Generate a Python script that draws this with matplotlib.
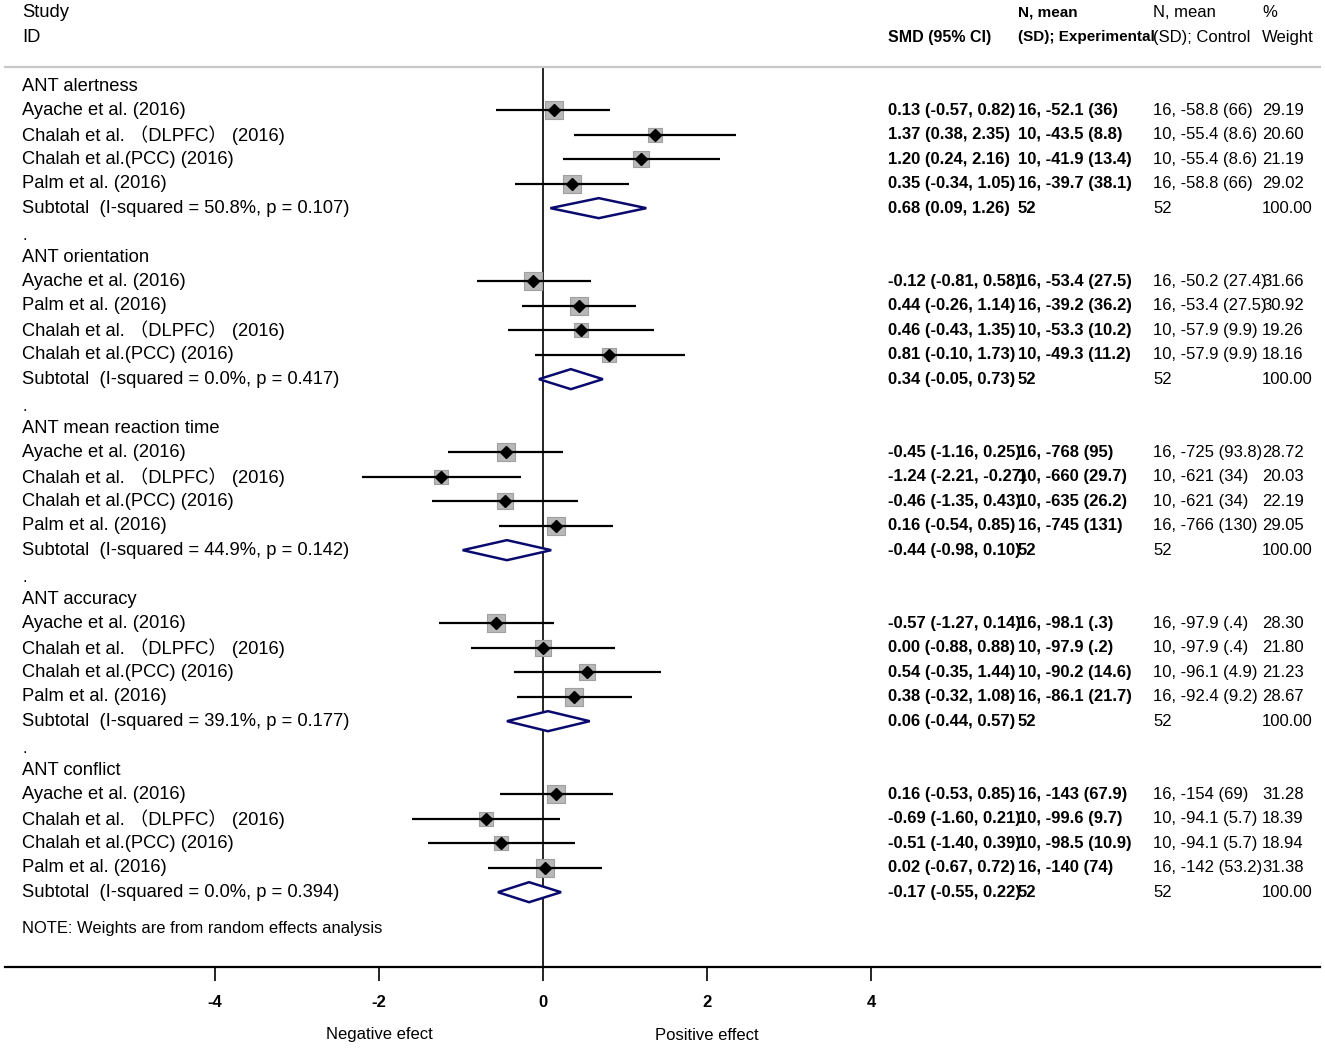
import numpy as np
import matplotlib
matplotlib.use("Agg")
import matplotlib.pyplot as plt
from matplotlib.patches import Polygon
from matplotlib.transforms import blended_transform_factory

plt.rcParams['font.family'] = ['Liberation Sans', 'Noto Sans CJK SC']

# ---- data ----
groups = ["ANT alertness", "ANT orientation", "ANT mean reaction time",
          "ANT accuracy", "ANT conflict"]

ayache = "Ayache et al. (2016)"
dlpfc = "Chalah et al. \uff08DLPFC\uff09 (2016)"
pcc = "Chalah et al.(PCC) (2016)"
palm = "Palm et al. (2016)"

studies = [
    [ayache, dlpfc, pcc, palm],
    [ayache, palm, dlpfc, pcc],
    [ayache, dlpfc, pcc, palm],
    [ayache, dlpfc, pcc, palm],
    [ayache, dlpfc, pcc, palm],
]

smd = [
    [0.13, 1.37, 1.20, 0.35],
    [-0.12, 0.44, 0.46, 0.81],
    [-0.45, -1.24, -0.46, 0.16],
    [-0.57, 0.00, 0.54, 0.38],
    [0.16, -0.69, -0.51, 0.02],
]
ci_lo = [
    [-0.57, 0.38, 0.24, -0.34],
    [-0.81, -0.26, -0.43, -0.10],
    [-1.16, -2.21, -1.35, -0.54],
    [-1.27, -0.88, -0.35, -0.32],
    [-0.53, -1.60, -1.40, -0.67],
]
ci_hi = [
    [0.82, 2.35, 2.16, 1.05],
    [0.58, 1.14, 1.35, 1.73],
    [0.25, -0.27, 0.43, 0.85],
    [0.14, 0.88, 1.44, 1.08],
    [0.85, 0.21, 0.39, 0.72],
]
weights = [
    [29.19, 20.60, 21.19, 29.02],
    [31.66, 30.92, 19.26, 18.16],
    [28.72, 20.03, 22.19, 29.05],
    [28.30, 21.80, 21.23, 28.67],
    [31.28, 18.39, 18.94, 31.38],
]
exp_txt = [
    ["16, -52.1 (36)", "10, -43.5 (8.8)", "10, -41.9 (13.4)", "16, -39.7 (38.1)"],
    ["16, -53.4 (27.5)", "16, -39.2 (36.2)", "10, -53.3 (10.2)", "10, -49.3 (11.2)"],
    ["16, -768 (95)", "10, -660 (29.7)", "10, -635 (26.2)", "16, -745 (131)"],
    ["16, -98.1 (.3)", "10, -97.9 (.2)", "10, -90.2 (14.6)", "16, -86.1 (21.7)"],
    ["16, -143 (67.9)", "10, -99.6 (9.7)", "10, -98.5 (10.9)", "16, -140 (74)"],
]
ctrl_txt = [
    ["16, -58.8 (66)", "10, -55.4 (8.6)", "10, -55.4 (8.6)", "16, -58.8 (66)"],
    ["16, -50.2 (27.4)", "16, -53.4 (27.5)", "10, -57.9 (9.9)", "10, -57.9 (9.9)"],
    ["16, -725 (93.8)", "10, -621 (34)", "10, -621 (34)", "16, -766 (130)"],
    ["16, -97.9 (.4)", "10, -97.9 (.4)", "10, -96.1 (4.9)", "16, -92.4 (9.2)"],
    ["16, -154 (69)", "10, -94.1 (5.7)", "10, -94.1 (5.7)", "16, -142 (53.2)"],
]
sub_smd = [0.68, 0.34, -0.44, 0.06, -0.17]
sub_lo = [0.09, -0.05, -0.98, -0.44, -0.55]
sub_hi = [1.26, 0.73, 0.10, 0.57, 0.22]
sub_i2 = [50.8, 0.0, 44.9, 39.1, 0.0]
sub_p = [0.107, 0.417, 0.142, 0.177, 0.394]
sub_n_exp = [52, 52, 52, 52, 52]
sub_n_ctrl = [52, 52, 52, 52, 52]

xticks = [-4, -2, 0, 2, 4]

# ---- layout ----
W, H = 1325, 1050
fig = plt.figure(figsize=(W / 100, H / 100), dpi=100)

px0 = 543.0      # pixel of x = 0
ppu = 82.0       # pixels per SMD unit
row0 = 86.0      # pixel of first row
rowh = 24.43     # row height in pixels
ax_top, ax_bot = 67.0, 967.0
ax_left, ax_right = 5.0, 1320.0

ax = fig.add_axes([ax_left / W, 1 - ax_bot / H,
                   (ax_right - ax_left) / W, (ax_bot - ax_top) / H])
ax.set_xlim((ax_left - px0) / ppu, (ax_right - px0) / ppu)
ax.set_ylim((ax_bot - row0) / rowh, (ax_top - row0) / rowh)

for s in ['left', 'right']:
    ax.spines[s].set_visible(False)
ax.spines['bottom'].set_linewidth(1.6)
ax.spines['top'].set_color('#c8c8c8')
ax.spines['top'].set_linewidth(1.6)
ax.set_yticks([])
ax.set_xticks(xticks)
ax.set_xticklabels([str(t) for t in xticks], fontsize=12, fontweight='bold')
ax.tick_params(axis='x', direction='out', length=10, width=1.2, pad=10)

ax.axvline(0, color='black', lw=1.2, zorder=2)

tr = blended_transform_factory(fig.transFigure, ax.transData)
col_lab = 22 / W
col_smd = 888 / W
col_exp = 1018 / W
col_ctrl = 1153 / W
col_w = 1262 / W

fs = 13.2
fs_r = 12
fs_h = 11

# header
ax.text(col_lab, -3.0, "Study", transform=tr, fontsize=fs, va='center', clip_on=False)
ax.text(col_lab, -2.0, "ID", transform=tr, fontsize=fs, va='center', clip_on=False)
ax.text(col_smd, -2.0, "SMD (95% CI)", transform=tr, fontsize=11.5, va='center',
        fontweight='bold', clip_on=False)
ax.text(col_exp, -3.0, "N, mean", transform=tr, fontsize=fs_h, va='center',
        fontweight='bold', clip_on=False)
ax.text(col_exp, -2.0, "(SD); Experimental", transform=tr, fontsize=fs_h, va='center',
        fontweight='bold', clip_on=False)
ax.text(col_ctrl, -3.0, "N, mean", transform=tr, fontsize=fs_r, va='center', clip_on=False)
ax.text(col_ctrl, -2.0, "(SD); Control", transform=tr, fontsize=fs_r, va='center', clip_on=False)
ax.text(col_w, -3.0, "%", transform=tr, fontsize=fs_r, va='center', clip_on=False)
ax.text(col_w, -2.0, "Weight", transform=tr, fontsize=fs_r, va='center', clip_on=False)

r = 0
for g in range(len(groups)):
    ax.text(col_lab, r, groups[g], transform=tr, fontsize=fs, va='center')
    r += 1
    for i in range(len(studies[g])):
        est, lo, hi, w = smd[g][i], ci_lo[g][i], ci_hi[g][i], weights[g][i]
        side = 3.3 * np.sqrt(w) * 0.72
        ax.scatter([est], [r], marker='s', s=side ** 2, color='#b8b8b8',
                   edgecolors='#a0a0a0', linewidths=0.8, zorder=3)
        ax.plot([lo, hi], [r, r], color='black', lw=1.6, solid_capstyle='butt', zorder=4)
        ax.plot([est], [r], marker='D', color='black', markersize=6.5, zorder=5)
        ax.text(col_lab, r, studies[g][i], transform=tr, fontsize=fs, va='center')
        ax.text(col_smd, r, "%.2f (%.2f, %.2f)" % (est, lo, hi), transform=tr,
                fontsize=fs_r, va='center', fontweight='bold')
        ax.text(col_exp, r, exp_txt[g][i], transform=tr, fontsize=fs_r, va='center',
                fontweight='bold')
        ax.text(col_ctrl, r, ctrl_txt[g][i], transform=tr, fontsize=fs_r, va='center')
        ax.text(col_w, r, "%.2f" % w, transform=tr, fontsize=fs_r, va='center')
        r += 1
    # subtotal
    dh = 0.41
    dia = Polygon([[sub_lo[g], r], [sub_smd[g], r - dh], [sub_hi[g], r], [sub_smd[g], r + dh]],
                  closed=True, facecolor='white', edgecolor='#0a0a6e', lw=1.8, zorder=4)
    ax.add_patch(dia)
    ax.text(col_lab, r, "Subtotal  (I-squared = %.1f%%, p = %.3f)" % (sub_i2[g], sub_p[g]),
            transform=tr, fontsize=fs, va='center')
    ax.text(col_smd, r, "%.2f (%.2f, %.2f)" % (sub_smd[g], sub_lo[g], sub_hi[g]),
            transform=tr, fontsize=fs_r, va='center', fontweight='bold')
    ax.text(col_exp, r, str(sub_n_exp[g]), transform=tr, fontsize=fs_r, va='center',
            fontweight='bold')
    ax.text(col_ctrl, r, str(sub_n_ctrl[g]), transform=tr, fontsize=fs_r, va='center')
    ax.text(col_w, r, "100.00", transform=tr, fontsize=fs_r, va='center')
    r += 1
    if g < len(groups) - 1:
        ax.text(col_lab, r + 0.1, ".", transform=tr, fontsize=fs_r, va='center')
        r += 1

ax.text(col_lab, r + 0.5, "NOTE: Weights are from random effects analysis", transform=tr,
        fontsize=11.9, va='center')

lab_y = (1035 - row0) / rowh
ax.text(-2, lab_y, "Negative efect", fontsize=12, ha='center', va='center', clip_on=False)
ax.text(2, lab_y, "Positive effect", fontsize=12, ha='center', va='center', clip_on=False)

fig.savefig("out.png", dpi=100, facecolor='white')
